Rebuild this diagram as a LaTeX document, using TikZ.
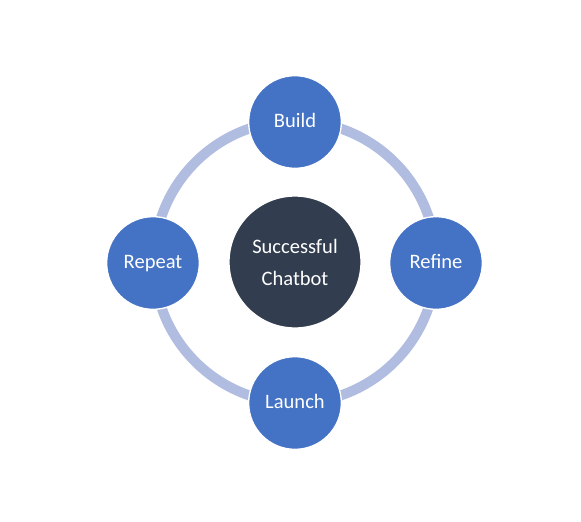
\documentclass[tikz,border=0pt]{standalone}
\usepackage{fontspec}
\setmainfont{Carlito}
\usepackage{xcolor}
\usetikzlibrary{positioning}

\definecolor{stepblue}{HTML}{4472C4}
\definecolor{hubdark}{HTML}{323E4F}
\definecolor{ringblue}{HTML}{B0BDE0}

\begin{document}
\begin{tikzpicture}[
    x=0.75pt, y=-0.75pt,
    hub/.style   = {circle, draw=white, line width=1pt, fill=hubdark, text=white,
                    align=center, minimum size=99pt, inner sep=0pt,
                    font=\fontsize{15.4}{24}\selectfont},
    stage/.style = {circle, draw=white, line width=1pt, fill=stepblue, text=white,
                    minimum size=69.5pt, inner sep=0pt, text height=10pt, text depth=1.6pt,
                    font=\fontsize{15.4}{24}\selectfont},
    ring/.style  = {draw=ringblue, line width=7.5pt},
  ]
    \useasboundingbox (0,0) rectangle (581,521);

    % --- the cycle ---
    \coordinate (c) at (295,262);
    \draw[ring] (c) circle[radius=141];

    % --- centre ---
    \node[hub] (hub) at (c) {Successful\\ Chatbot};

    % --- stages round the cycle ---
    \node[stage] (build)  at (295,122) {Build};
    \node[stage] (refine) at (436,263) {Refine};
    \node[stage] (launch) at (295,403) {Launch};
    \node[stage] (repeat) at (153,263) {Repeat};
  \end{tikzpicture}
\end{document}
